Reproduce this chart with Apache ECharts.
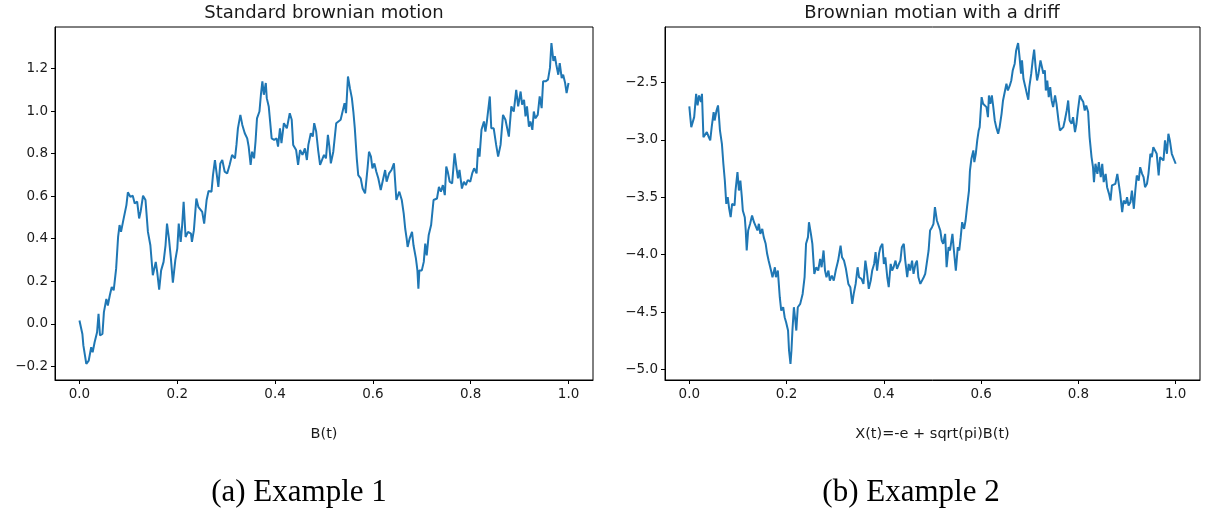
<!DOCTYPE html>
<html>
<head>
<meta charset="utf-8">
<script src="https://cdn.jsdelivr.net/npm/echarts@6/dist/echarts.min.js"></script>
<style>
  html, body { margin: 0; padding: 0; background: #fff; }
  #chart { width: 1207px; height: 513px; }
</style>
</head>
<body>
<div id="chart"></div>
<script>
// Panel (a): standard Brownian motion B(t), sampled on [0, 1]
const tA = [
  0.000,0.001,0.006,0.008,0.014,0.019,0.024,0.027,0.031,0.036,
  0.039,0.042,0.047,0.050,0.055,0.058,0.062,0.066,0.070,0.075,
  0.079,0.082,0.085,0.089,0.092,0.096,0.099,0.104,0.109,0.113,
  0.118,0.122,0.125,0.130,0.135,0.140,0.145,0.150,0.156,0.159,
  0.163,0.167,0.172,0.176,0.179,0.183,0.187,0.191,0.196,0.200,
  0.203,0.207,0.210,0.213,0.217,0.222,0.228,0.230,0.234,0.239,
  0.243,0.246,0.251,0.255,0.260,0.264,0.270,0.273,0.277,0.280,
  0.284,0.288,0.292,0.297,0.302,0.307,0.312,0.318,0.321,0.324,
  0.329,0.333,0.338,0.343,0.346,0.350,0.353,0.357,0.360,0.363,
  0.368,0.371,0.374,0.377,0.381,0.383,0.387,0.393,0.398,0.403,
  0.406,0.410,0.413,0.418,0.424,0.430,0.434,0.437,0.443,0.447,
  0.451,0.456,0.461,0.465,0.468,0.473,0.477,0.480,0.484,0.488,0.492,
  0.495,0.500,0.504,0.508,0.511,0.514,0.519,0.525,0.529,0.534,
  0.538,0.542,0.545,0.549,0.553,0.557,0.560,0.563,0.567,0.570,
  0.575,0.579,0.584,0.589,0.592,0.596,0.599,0.603,0.607,0.611,
  0.616,0.620,0.625,0.628,0.633,0.638,0.643,0.648,0.651,0.654,
  0.659,0.663,0.666,0.669,0.671,0.675,0.680,0.683,0.688,0.691,
  0.693,0.695,0.700,0.704,0.707,0.710,0.714,0.719,0.724,0.728,
  0.731,0.735,0.739,0.743,0.747,0.750,0.753,0.757,0.762,0.767,
  0.771,0.774,0.777,0.782,0.786,0.790,0.794,0.799,0.803,0.807,
  0.812,0.815,0.818,0.822,0.827,0.830,0.833,0.839,0.842,0.847,
  0.852,0.856,0.861,0.866,0.871,0.878,0.883,0.888,0.893,0.897,
  0.902,0.905,0.909,0.912,0.915,0.919,0.922,0.926,0.929,0.932,
  0.937,0.941,0.945,0.948,0.953,0.958,0.962,0.965,0.969,0.972,
  0.975,0.979,0.982,0.986,0.989,0.993,0.996,1.000
];
const bA = [
  0.015,0.008,-0.048,-0.102,-0.189,-0.173,-0.110,-0.134,-0.087,-0.040,
  0.047,-0.055,-0.048,0.055,0.117,0.086,0.133,0.173,0.157,0.259,
  0.408,0.464,0.432,0.479,0.471,0.558,0.618,0.597,0.602,0.566,
  0.574,0.495,0.526,0.602,0.582,0.432,0.369,0.228,0.291,0.243,
  0.160,0.251,0.291,0.369,0.471,0.400,0.306,0.193,0.299,0.353,
  0.471,0.385,0.464,0.574,0.408,0.432,0.424,0.385,0.440,0.589,
  0.550,0.542,0.526,0.471,0.582,0.624,0.621,0.699,0.770,0.715,
  0.644,0.754,0.770,0.715,0.707,0.747,0.794,0.778,0.841,0.919,
  0.982,0.935,0.896,0.872,0.833,0.747,0.809,0.778,0.857,0.966,
  0.998,1.077,1.140,1.077,1.132,1.061,1.022,0.872,0.865,0.872,
  0.833,0.919,0.849,0.943,0.919,0.990,0.959,0.841,0.817,0.747,
  0.817,0.794,0.825,0.770,0.841,0.896,0.880,0.943,0.904,0.817,0.747,
  0.747,0.794,0.778,0.888,0.833,0.754,0.809,0.943,0.935,0.959,
  0.966,1.037,0.990,1.163,1.108,1.061,0.998,0.919,0.778,0.699,
  0.684,0.636,0.613,0.731,0.809,0.786,0.731,0.754,0.715,0.684,
  0.629,0.636,0.723,0.668,0.707,0.723,0.754,0.582,0.574,0.621,
  0.582,0.518,0.448,0.400,0.361,0.400,0.432,0.369,0.306,0.251,
  0.165,0.251,0.251,0.291,0.377,0.322,0.416,0.464,0.582,0.574,
  0.589,0.644,0.621,0.652,0.605,0.739,0.715,0.668,0.660,0.801,
  0.731,0.684,0.723,0.636,0.668,0.652,0.676,0.668,0.707,0.731,
  0.707,0.825,0.786,0.912,0.951,0.904,0.951,1.069,0.919,0.919,
  0.841,0.786,0.841,0.982,0.959,0.880,1.022,0.998,1.100,1.022,
  1.092,1.030,1.053,0.975,1.022,0.927,0.951,0.912,0.998,0.966,
  0.982,1.069,1.014,1.140,1.140,1.148,1.203,1.320,1.236,1.258,
  1.218,1.171,1.226,1.155,1.171,1.132,1.085,1.132
];

// Panel (b): X(t) = -e + sqrt(pi) B(t)
const tB = [
  0.000,0.002,0.004,0.008,0.010,0.014,0.017,0.020,0.024,0.026,
  0.029,0.033,0.036,0.040,0.043,0.046,0.050,0.052,0.056,0.059,
  0.061,0.063,0.067,0.070,0.073,0.076,0.079,0.082,0.085,0.088,
  0.093,0.095,0.099,0.102,0.105,0.108,0.110,0.114,0.116,0.118,
  0.121,0.125,0.129,0.133,0.136,0.140,0.143,0.146,0.150,0.153,
  0.157,0.160,0.163,0.168,0.171,0.176,0.178,0.182,0.186,0.189,
  0.193,0.196,0.199,0.203,0.205,0.208,0.210,0.212,0.215,0.218,
  0.220,0.223,0.228,0.233,0.237,0.240,0.244,0.246,0.250,0.253,
  0.257,0.261,0.265,0.269,0.272,0.276,0.279,0.282,0.286,0.289,
  0.293,0.297,0.301,0.306,0.311,0.314,0.318,0.322,0.327,0.331,
  0.335,0.338,0.342,0.346,0.349,0.354,0.358,0.362,0.365,0.369,
  0.373,0.376,0.380,0.383,0.386,0.390,0.393,0.397,0.400,0.403,
  0.407,0.410,0.414,0.417,0.420,0.424,0.427,0.431,0.434,0.437,
  0.441,0.444,0.448,0.451,0.454,0.458,0.461,0.465,0.468,0.471,
  0.475,0.478,0.482,0.485,0.488,0.492,0.495,0.499,0.502,0.505,
  0.509,0.512,0.516,0.519,0.522,0.526,0.529,0.533,0.536,0.541,
  0.544,0.548,0.552,0.555,0.558,0.561,0.565,0.568,0.571,0.575,
  0.577,0.580,0.584,0.586,0.589,0.592,0.595,0.597,0.601,0.604,
  0.608,0.611,0.614,0.616,0.619,0.622,0.625,0.628,0.631,0.635,
  0.638,0.642,0.645,0.648,0.652,0.655,0.659,0.662,0.665,0.669,
  0.672,0.676,0.679,0.682,0.684,0.687,0.691,0.694,0.697,0.699,
  0.703,0.706,0.709,0.712,0.715,0.718,0.722,0.725,0.728,0.731,
  0.733,0.736,0.739,0.742,0.745,0.748,0.752,0.755,0.759,0.762,
  0.765,0.769,0.772,0.776,0.779,0.782,0.786,0.789,0.793,0.796,
  0.799,0.803,0.806,0.810,0.813,0.816,0.820,0.823,0.827,0.830,
  0.832,0.835,0.839,0.842,0.846,0.849,0.852,0.856,0.859,0.863,
  0.866,0.869,0.873,0.876,0.880,0.883,0.886,0.890,0.893,0.897,
  0.900,0.903,0.907,0.910,0.914,0.917,0.920,0.924,0.927,0.931,
  0.934,0.937,0.941,0.944,0.948,0.951,0.954,0.958,0.961,0.965,
  0.968,0.971,0.975,0.978,0.982,0.985,0.988,0.992,0.995,1.000
];
const xB = [
  -2.709,-2.802,-2.889,-2.875,-2.802,-2.599,-2.700,-2.613,-2.671,-2.599,
  -2.976,-2.962,-2.933,-2.976,-3.005,-2.889,-2.758,-2.831,-2.744,-2.700,
  -2.802,-2.918,-3.034,-3.208,-3.354,-3.557,-3.499,-3.600,-3.673,-3.557,
  -3.571,-3.441,-3.281,-3.441,-3.354,-3.499,-3.615,-3.673,-3.789,-3.963,
  -3.789,-3.731,-3.659,-3.717,-3.702,-3.789,-3.731,-3.818,-3.775,-3.847,
  -3.905,-3.992,-4.051,-4.138,-4.196,-4.109,-4.196,-4.138,-4.370,-4.486,
  -4.457,-4.544,-4.588,-4.660,-4.834,-4.951,-4.834,-4.660,-4.457,-4.573,
  -4.660,-4.457,-4.428,-4.341,-4.196,-3.905,-3.847,-3.717,-3.818,-3.905,
  -4.167,-4.109,-4.138,-4.036,-4.109,-3.963,-4.138,-4.196,-4.138,-4.225,
  -4.181,-4.225,-4.138,-4.051,-3.920,-4.022,-4.051,-4.123,-4.254,-4.283,
  -4.428,-4.341,-4.254,-4.109,-4.196,-4.210,-4.254,-4.051,-4.138,-4.297,
  -4.225,-4.138,-4.080,-3.978,-4.138,-3.992,-3.934,-3.905,-4.080,-4.022,
  -4.196,-4.283,-4.080,-4.138,-4.109,-4.051,-4.123,-4.080,-4.051,-3.934,
  -3.905,-4.051,-4.196,-4.080,-4.138,-4.051,-4.167,-4.080,-4.051,-4.196,
  -4.254,-4.268,-4.196,-4.167,-4.080,-3.963,-3.789,-3.760,-3.731,-3.586,
  -3.702,-3.688,-3.789,-3.876,-3.905,-3.818,-4.109,-3.934,-3.963,-3.818,
  -3.963,-4.138,-3.934,-3.963,-3.847,-3.717,-3.775,-3.702,-3.586,-3.441,
  -3.267,-3.165,-3.092,-3.194,-3.121,-3.005,-2.918,-2.889,-2.628,-2.686,
  -2.671,-2.715,-2.802,-2.613,-2.686,-2.613,-2.715,-2.831,-2.889,-2.947,
  -2.889,-2.773,-2.657,-2.642,-2.512,-2.570,-2.526,-2.483,-2.395,-2.337,
  -2.221,-2.157,-2.279,-2.424,-2.308,-2.468,-2.541,-2.599,-2.651,-2.541,
  -2.424,-2.308,-2.215,-2.366,-2.483,-2.424,-2.308,-2.366,-2.424,-2.395,
  -2.570,-2.483,-2.628,-2.541,-2.657,-2.715,-2.613,-2.686,-2.831,-2.918,
  -2.904,-2.889,-2.831,-2.744,-2.657,-2.831,-2.860,-2.802,-2.933,-2.860,
  -2.744,-2.613,-2.642,-2.671,-2.744,-2.700,-2.758,-2.976,-3.150,-3.238,
  -3.368,-3.208,-3.296,-3.194,-3.325,-3.208,-3.368,-3.296,-3.412,-3.470,
  -3.528,-3.397,-3.412,-3.383,-3.296,-3.383,-3.470,-3.630,-3.528,-3.557,
  -3.499,-3.571,-3.542,-3.441,-3.600,-3.441,-3.310,-3.354,-3.238,-3.296,
  -3.325,-3.412,-3.383,-3.296,-3.121,-3.150,-3.063,-3.049,-3.121,-3.310,
  -3.150,-3.136,-3.179,-3.005,-3.121,-2.947,-3.005,-3.121,-3.136,-3.208
];

// Tick positions
const xTicks = [0, 0.2, 0.4, 0.6, 0.8, 1.0];
const yTicksA = [-0.2, 0, 0.2, 0.4, 0.6, 0.8, 1.0, 1.2];
const yTicksB = [-5.0, -4.5, -4.0, -3.5, -3.0, -2.5];

const titles = ['Standard brownian motion', 'Brownian motian with a driff'];
const xNames = ['B(t)', 'X(t)=-e + sqrt(pi)B(t)'];
const captions = ['(a) Example 1', '(b) Example 2'];

const LINE = '#1f77b4';
const TICK_FONT = { fontFamily: 'DejaVu Sans', fontSize: 13.5, color: '#1a1a1a' };

function zip(xs, ys) {
  const n = Math.min(xs.length, ys.length);
  const out = [];
  for (let i = 0; i < n; i++) out.push([xs[i], ys[i]]);
  return out;
}

// Padded limits (5% of data range on each side)
function padded(vals) {
  const lo = Math.min(...vals), hi = Math.max(...vals);
  const m = (hi - lo) * 0.05;
  return [lo - m, hi + m];
}

const fmt = v => v.toFixed(1).replace('-', '\u2212');

const [yAmin, yAmax] = padded(bA);
const [yBmin, yBmax] = padded(xB);
const [xMin, xMax] = padded([0, 1]);

function xAxisFor(idx) {
  return {
    type: 'value', gridIndex: idx, min: xMin, max: xMax,
    name: xNames[idx], nameLocation: 'middle', nameGap: 47,
    nameTextStyle: { fontFamily: 'DejaVu Sans', fontSize: 14.5, color: '#1a1a1a' },
    axisLine: { show: true, onZero: false, lineStyle: { color: '#000', width: 1 } },
    axisTick: { show: true, inside: false, length: 4, customValues: xTicks, lineStyle: { color: '#000', width: 1 } },
    axisLabel: Object.assign({ customValues: xTicks, margin: 7, formatter: fmt }, TICK_FONT),
    splitLine: { show: false }
  };
}

function yAxisFor(idx, lo, hi, ticks) {
  return {
    type: 'value', gridIndex: idx, min: lo, max: hi,
    axisLine: { show: true, onZero: false, lineStyle: { color: '#000', width: 1 } },
    axisTick: { show: true, inside: false, length: 4, customValues: ticks, lineStyle: { color: '#000', width: 1 } },
    axisLabel: Object.assign({ customValues: ticks, margin: 7, formatter: fmt }, TICK_FONT),
    splitLine: { show: false }
  };
}

const chart = echarts.init(document.getElementById('chart'), null, { renderer: 'canvas' });

chart.setOption({
  animation: false,
  backgroundColor: '#fff',
  title: [
    { text: titles[0], left: 324, top: 4, textAlign: 'center', padding: 0,
      textStyle: { fontFamily: 'DejaVu Sans', fontSize: 18, fontWeight: 'normal', color: '#1a1a1a' } },
    { text: titles[1], left: 932, top: 4, textAlign: 'center', padding: 0,
      textStyle: { fontFamily: 'DejaVu Sans', fontSize: 18, fontWeight: 'normal', color: '#1a1a1a' } }
  ],
  grid: [
    { left: 55, top: 27, width: 538, height: 353, show: true, borderColor: '#000', borderWidth: 1, backgroundColor: '#fff' },
    { left: 665, top: 27, width: 535, height: 353, show: true, borderColor: '#000', borderWidth: 1, backgroundColor: '#fff' }
  ],
  xAxis: [xAxisFor(0), xAxisFor(1)],
  yAxis: [
    yAxisFor(0, yAmin, yAmax, yTicksA),
    yAxisFor(1, yBmin, yBmax, yTicksB)
  ],
  series: [
    { type: 'line', xAxisIndex: 0, yAxisIndex: 0, data: zip(tA, bA), showSymbol: false,
      lineStyle: { color: LINE, width: 2 }, itemStyle: { color: LINE } },
    { type: 'line', xAxisIndex: 1, yAxisIndex: 1, data: zip(tB, xB), showSymbol: false,
      lineStyle: { color: LINE, width: 2 }, itemStyle: { color: LINE } }
  ],
  graphic: [
    { type: 'text', x: 299, y: 493, style: { text: captions[0], font: '31px "Liberation Serif"', fill: '#000', textAlign: 'center', textVerticalAlign: 'middle' } },
    { type: 'text', x: 911, y: 493, style: { text: captions[1], font: '31px "Liberation Serif"', fill: '#000', textAlign: 'center', textVerticalAlign: 'middle' } }
  ]
});
</script>
</body>
</html>
